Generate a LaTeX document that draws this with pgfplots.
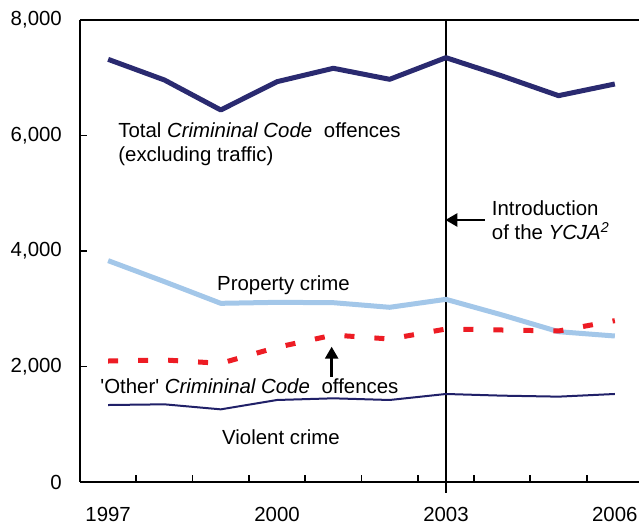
\documentclass[border=0pt]{standalone}
\usepackage{fontspec}
\setmainfont{Liberation Sans}
\usepackage{pgfplots}
\pgfplotsset{compat=1.18}
\usetikzlibrary{arrows.meta}
\definecolor{totnavy}{RGB}{42,42,112}
\definecolor{propblue}{RGB}{163,199,233}
\definecolor{othred}{RGB}{237,28,36}
\definecolor{violnavy}{RGB}{32,32,104}
\begin{document}
\fontsize{10.2}{12.2}\selectfont
\begin{tikzpicture}
\path[use as bounding box] (-40pt,-21.5pt) rectangle (279.5pt,241pt);
\begin{axis}[
  scale only axis, width=281.5pt, height=231pt,
  xmin=1996.5, xmax=2006.5, ymin=0, ymax=8000,
  axis x line*=bottom, axis y line*=left,
  axis line style={line width=1.4pt, black},
  tick style={line width=0.9pt, black},
  major tick length=3.5pt,
  tick align=inside,
  xtick={1997.5,1998.5,1999.5,2000.5,2001.5,2002.5,2003.5,2004.5,2005.5},
  xticklabels={},
  extra x ticks={1997,2000,2003,2006},
  extra x tick labels={1997,2000,2003,2006},
  extra x tick style={major tick length=0pt},
  ytick={0,2000,4000,6000,8000},
  yticklabels={0,{2,000},{4,000},{6,000},{8,000}},
  xticklabel style={font=\fontsize{10.2}{12.2}\selectfont, yshift=-9pt},
  yticklabel style={font=\fontsize{10.2}{12.2}\selectfont, xshift=-5.5pt},
  /pgf/number format/assume math mode=true,
  clip=false,
]
% top frame line
\draw[line width=0.85pt] (axis cs:1996.5,8000) -- (axis cs:2006.5,8000);
% YCJA line
\draw[line width=0.8pt] (axis cs:2003,8000) -- ([yshift=-5.5pt]axis cs:2003,0);

\addplot[color=totnavy, line width=2.5pt, line join=round] coordinates {
(1997,7319)(1998,6961)(1999,6442)(2000,6932)(2001,7164)(2002,6973)(2003,7348)(2004,7030)(2005,6690)(2006,6892)};
\addplot[color=propblue, line width=2.5pt, line join=round] coordinates {
(1997,3833)(1998,3469)(1999,3094)(2000,3111)(2001,3105)(2002,3025)(2003,3163)(2004,2892)(2005,2603)(2006,2528)};
\addplot[color=othred, line width=2.5pt, dash pattern=on 5pt off 10pt] coordinates {
(1997,2095)(1998,2113)(1999,2055)(2000,2332)(2001,2545)(2002,2476)(2003,2649)(2004,2632)(2005,2615)(2006,2794)};
\addplot[color=violnavy, line width=1pt, line join=round] coordinates {
(1997,1333)(1998,1345)(1999,1258)(2000,1420)(2001,1449)(2002,1420)(2003,1524)(2004,1495)(2005,1478)(2006,1524)};

\node[anchor=west, align=left, inner sep=0pt] at (axis cs:1997.175,5853)
  {Total \textit{Crimininal Code}\hspace{3pt} offences\\(excluding traffic)};
\node[inner sep=0pt] at (axis cs:2000.115,3411) {Property crime};
\node[anchor=west, inner sep=0pt] at (axis cs:1996.855,1650)
  {\textquotesingle Other\textquotesingle\ \textit{Crimininal Code}\hspace{3pt} offences};
\node[inner sep=0pt] at (axis cs:2000.07,784) {Violent crime};
\node[anchor=west, align=left, inner sep=0pt] at (axis cs:2003.81,4537)
  {Introduction\\of the \textit{YCJA}\textsuperscript{\textit{2}}};

\draw[-{Triangle[length=6pt,width=6.5pt]}, line width=1.3pt]
  (axis cs:2003.69,4537) -- (axis cs:2002.99,4537);
\draw[-{Triangle[length=6pt,width=6.5pt]}, line width=1.3pt]
  (axis cs:2000.97,1823) -- (axis cs:2000.97,2343);
\end{axis}
\end{tikzpicture}
\end{document}
